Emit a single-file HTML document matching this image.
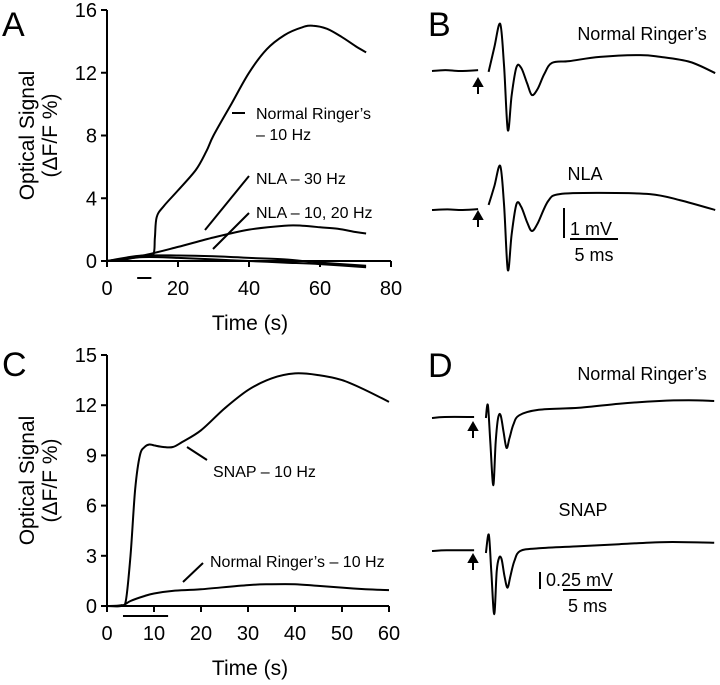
<!DOCTYPE html>
<html><head><meta charset="utf-8"><style>
body{margin:0;background:#fff}
svg{display:block;font-family:"Liberation Sans",Arial,sans-serif}
text{fill:#000}
</style></head><body>
<svg id="fig" width="720" height="685" viewBox="0 0 720 685" xmlns="http://www.w3.org/2000/svg">
<g id="gA"></g>
<g id="gB"></g>
<g id="gC"></g>
<g id="gD"></g>
</svg>
<script>
// Panel A data
const aTicksX=[0,20,40,60,80];
const aTicksY=[0,4,8,12,16];
const aNormT=[0,5,10,13,13.5,14,16,20,25,28,30,35,40,45,50,55,58,62,66,70,73];
const aNormV=[0,0.1,0.3,0.4,1.5,2.8,3.5,4.5,5.8,7,8,10,12,13.5,14.4,14.9,15,14.8,14.3,13.7,13.3];
const aN30T=[0,10,20,30,40,50,55,60,65,70,73];
const aN30V=[0,0.35,0.9,1.5,2.0,2.25,2.25,2.15,2.05,1.85,1.75];
const aN10T=[0,5,10,20,30,40,50,60,73];
const aN10V=[0,0.2,0.35,0.35,0.3,0.2,0.1,-0.1,-0.3];
const aN20T=[0,10,20,30,40,50,60,73];
const aN20V=[0,0.25,0.2,0.1,0,-0.1,-0.2,-0.4];
const aStim=[8.5,12.5];
// Panel C data
const cTicksX=[0,10,20,30,40,50,60];
const cTicksY=[0,3,6,9,12,15];
const cSnapT=[0,3,4,5,6,7,8,9,10,12,14,16,20,25,30,35,40,45,50,55,60];
const cSnapV=[0,0.05,0.3,3,7,9,9.5,9.65,9.6,9.5,9.5,9.8,10.5,11.8,12.9,13.6,13.9,13.8,13.5,12.9,12.2];
const cNormT=[0,3,5,8,10,14,20,30,35,40,45,50,55,60];
const cNormV=[0,0,0.3,0.6,0.75,0.9,1.0,1.25,1.3,1.3,1.2,1.1,1.0,0.95];
const cStim=[3.4,13];
// Panel B traces (ms, mV)
const bTopPreT=[0,1.4,2.9,4.8];
const bTopPreV=[0,0.03,0,0.03];
const bTopT=[5.9,6.5,7.1,7.5,7.9,8.3,8.8,9.3,9.9,10.4,11.0,11.7,12.5,14.3,17.5,21.7,23.8,26.9,29.5];
const bTopV=[-0.03,0.8,1.57,0.2,-1.97,-0.8,0.13,0.1,-0.4,-0.8,-0.6,-0.1,0.27,0.33,0.47,0.53,0.47,0.3,-0.07];
const bBotPreT=[0,1.6,3.2,4.8];
const bBotPreV=[0,0.02,0,0.03];
const bBotT=[5.9,6.5,7.1,7.5,7.9,8.3,8.8,9.3,9.9,10.4,11.0,12.1,13.3,17.5,22.7,25.8,29.5];
const bBotV=[0.17,0.8,1.47,0.2,-2.0,-0.8,0.2,0.1,-0.4,-0.7,-0.45,0.3,0.53,0.57,0.53,0.33,0];
// Panel D traces (ms, mV)
const dTopPreT=[0,1.3,4.3];
const dTopPreV=[0,0.015,0.015];
const dTopT=[5.5,5.7,5.95,6.25,6.5,6.75,7.0,7.3,7.6,7.9,8.3,8.9,10.9,15.0,19.1,23.2,26.2,28.8];
const dTopV=[0,0.19,-0.35,-0.99,-0.35,0,0.04,-0.2,-0.44,-0.3,-0.1,0.04,0.12,0.15,0.21,0.25,0.26,0.25];
const dBotPreT=[0,1.5,4.3];
const dBotPreV=[0,0.01,0.01];
const dBotT=[5.5,5.8,6.05,6.35,6.6,6.85,7.1,7.4,7.7,8.0,8.4,9.0,10.9,15.0,19.1,23.2,26.2,28.8];
const dBotV=[-0.03,0.24,-0.3,-0.93,-0.3,-0.1,-0.12,-0.37,-0.54,-0.37,-0.15,0,0.04,0.07,0.1,0.13,0.13,0.12];

const NS="http://www.w3.org/2000/svg";
function mk(parent,tag,attrs,txt){const e=document.createElementNS(NS,tag);for(const k in attrs)e.setAttribute(k,attrs[k]);if(txt!==undefined)e.textContent=txt;parent.appendChild(e);return e;}
function pathD(T,V,sx,sy){
  const P=T.map((t,i)=>[sx(t),sy(V[i])]);
  let d='M'+P[0][0].toFixed(1)+','+P[0][1].toFixed(1);
  for(let i=0;i<P.length-1;i++){
    const p0=P[Math.max(0,i-1)],p1=P[i],p2=P[i+1],p3=P[Math.min(P.length-1,i+2)];
    const k=1/6;
    const c1=[p1[0]+(p2[0]-p0[0])*k,p1[1]+(p2[1]-p0[1])*k];
    const c2=[p2[0]-(p3[0]-p1[0])*k,p2[1]-(p3[1]-p1[1])*k];
    d+=` C${c1[0].toFixed(1)},${c1[1].toFixed(1)} ${c2[0].toFixed(1)},${c2[1].toFixed(1)} ${p2[0].toFixed(1)},${p2[1].toFixed(1)}`;
  }
  return d;
}

function panel(g,letter,ly,ticksX,ticksY,x0,x1,xmax,y0,y1,ymax,stim,stimOff){
  const sx=v=>x0+(x1-x0)*v/xmax, sy=v=>y0-(y0-y1)*v/ymax;
  let t=mk(g,'text',{x:2,y:ly,'font-size':34},letter);
  
  
  let ax=mk(g,'path',{d:`M${x0},${y1} V${y0} H${sx(ticksX[ticksX.length-1])}`,fill:'none',stroke:'#000','stroke-width':2});
  
  
  ticksY.forEach(v=>{
    let l=mk(g,'line',{x1:x0-6,x2:x0,y1:sy(v),y2:sy(v),stroke:'#000','stroke-width':2});
    
    
    let tt=mk(g,'text',{x:x0-10,y:sy(v)+7,'font-size':20,'text-anchor':'end'},v);
    
    
  });
  ticksX.forEach(v=>{
    let l=mk(g,'line',{x1:sx(v),x2:sx(v),y1:y0,y2:y0+6,stroke:'#000','stroke-width':2});
    
    
    let tt=mk(g,'text',{x:sx(v),y:y0+34,'font-size':20,'text-anchor':'middle'},v);
    
    
  });
  let s=mk(g,'line',{x1:sx(stim[0]),x2:sx(stim[1]),y1:y0+stimOff,y2:y0+stimOff,stroke:'#000','stroke-width':2});
  
  
  let xt=mk(g,'text',{x:250,y:y0+69,'font-size':21,'text-anchor':'middle'},'Time (s)');
  
  
  const cy=(y0+y1)/2;
  let y1t=mk(g,'text',{x:0,y:0,'font-size':21,'text-anchor':'middle',transform:`translate(34,${cy}) rotate(-90)`},'Optical Signal');
  
  
  let y2t=mk(g,'text',{x:0,y:0,'font-size':21,'text-anchor':'middle',transform:`translate(57,${cy}) rotate(-90)`},'(\u0394F/F %)');
  
  
  return [sx,sy];
}
function line(g,T,V,sx,sy,name,w){
  let p=mk(g,'path',{d:pathD(T,V,sx,sy),fill:'none',stroke:'#000','stroke-width':w||2,'stroke-linejoin':'round'});
  
  
}
function lbl(g,x,y,s,name,fs){let t=mk(g,'text',{x:x,y:y,'font-size':fs||16},s);
  
  }
function lead(g,x1,y1,x2,y2){let l=mk(g,'line',{x1,y1,x2,y2,stroke:'#000','stroke-width':2});
  
  }

// A
const gA=document.getElementById('gA');
const [ax,ay]=panel(gA,'A',36,aTicksX,aTicksY,107,391,80,261,10,16,aStim,17);
line(gA,aNormT,aNormV,ax,ay,'normal-ringers-line');
line(gA,aN30T,aN30V,ax,ay,'nla-30hz-line');
line(gA,aN10T,aN10V,ax,ay,'nla-10hz-line');
line(gA,aN20T,aN20V,ax,ay,'nla-20hz-line');
lead(gA,232,113,245,113);lbl(gA,256,119,"Normal Ringer\u2019s",'label-normal-ringers');lbl(gA,256,140,"\u2013 10 Hz",'label-10hz');
lead(gA,205,230,249,176);lbl(gA,256,184,"NLA \u2013 30 Hz",'label-nla-30hz');
lead(gA,213,249,249,213);lbl(gA,256,218,"NLA \u2013 10, 20 Hz",'label-nla-10-20hz');

// C
const gC=document.getElementById('gC');
const [cx,cy]=panel(gC,'C',376,cTicksX,cTicksY,107,389,60,606,355,15,cStim,10);
line(gC,cSnapT,cSnapV,cx,cy,'snap-line');
line(gC,cNormT,cNormV,cx,cy,'normal-ringers-line');
lead(gC,187,447,207,460);lbl(gC,213,477,"SNAP \u2013 10 Hz",'label-snap');
lead(gC,183,582,203,563);lbl(gC,210,567,"Normal Ringer\u2019s \u2013 10 Hz",'label-normal-ringers');

// traces
function trace(g,preT,preV,T,V,x0,base,pxms,pxmv,name){
  const sx=t=>x0+t*pxms, sy=v=>base-v*pxmv;
  line(g,preT,preV,sx,sy,name+'-baseline',2);
  line(g,T,V,sx,sy,name,2);
}
function arrow(g,x,y){
  let a=mk(g,'path',{d:`M${x},${y+15} V${y+4} M${x-4},${y+7} L${x},${y} L${x+4},${y+7} Z`,stroke:'#000','stroke-width':2,fill:'#000'});
  
  
}
function scale(g,xv,y1,y2,xh1,xh2,yh,vl,tl){
  let v=mk(g,'line',{x1:xv,x2:xv,y1:y1,y2:y2,stroke:'#000','stroke-width':2});
  
  
  let h=mk(g,'line',{x1:xh1,x2:xh2,y1:yh,y2:yh,stroke:'#000','stroke-width':2});
  
  
  lbl(g,xv+6,yh-4,vl,'voltage-scale-label',18);
  let t=mk(g,'text',{x:(xh1+xh2)/2,y:yh+22,'font-size':18,'text-anchor':'middle'},tl);
  
  
}
function title(g,x,y,s,name){let t=mk(g,'text',{x,y,'font-size':18,'text-anchor':'middle'},s);
  
  }
function letter(g,x,y,s){let t=mk(g,'text',{x,y,'font-size':34},s);
  
  }

const gB=document.getElementById('gB');
letter(gB,428,36,'B');
title(gB,642,40,"Normal Ringer\u2019s",'trace-title-normal-ringers');
title(gB,585,180,"NLA",'trace-title-nla');
trace(gB,bTopPreT,bTopPreV,bTopT,bTopV,432,71,9.6,30,'normal-ringers-trace');
trace(gB,bBotPreT,bBotPreV,bBotT,bBotV,432,210,9.6,30,'nla-trace');
arrow(gB,478,79);arrow(gB,478,212);
scale(gB,564,208,238,570,618,239,'1 mV','5 ms');

const gD=document.getElementById('gD');
letter(gD,428,377,'D');
title(gD,642,380,"Normal Ringer\u2019s",'trace-title-normal-ringers');
title(gD,583,516,"SNAP",'trace-title-snap');
trace(gD,dTopPreT,dTopPreV,dTopT,dTopV,432,418,9.8,68,'normal-ringers-trace');
trace(gD,dBotPreT,dBotPreV,dBotT,dBotV,432,551,9.8,68,'snap-trace');
arrow(gD,473,423);arrow(gD,473,555);
scale(gD,540,572,589,563,612,590,'0.25 mV','5 ms');
</script>
</body></html>
